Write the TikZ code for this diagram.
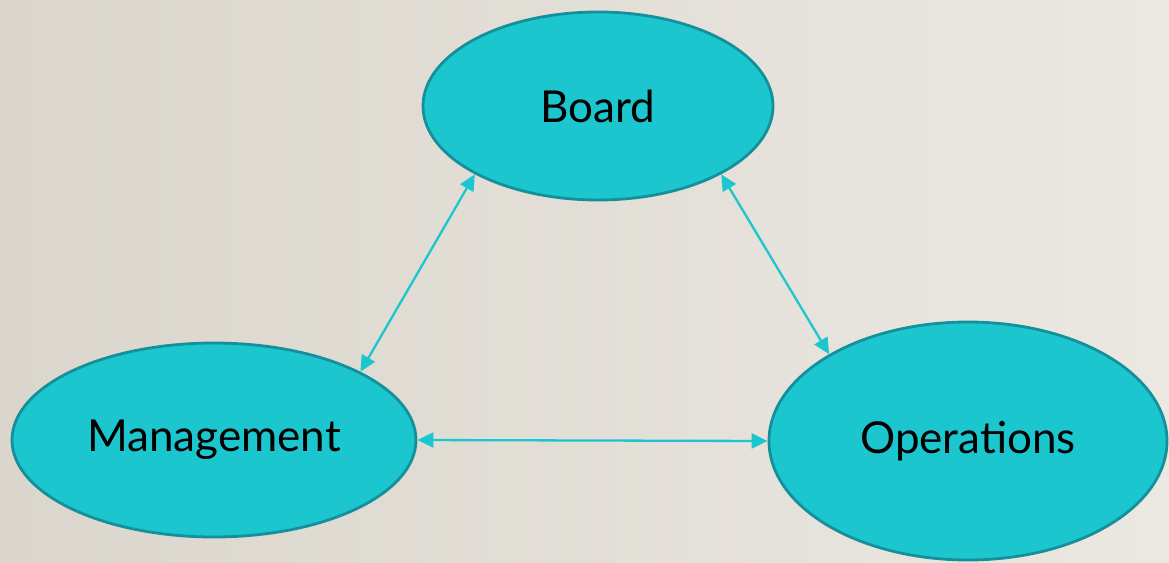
\documentclass[tikz,border=0pt]{standalone}
\usepackage{fontspec}
\setmainfont{Lato}
\usetikzlibrary{shapes.geometric,arrows.meta}
\definecolor{cyanfill}{HTML}{1CC6CF}
\definecolor{tealline}{HTML}{14909A}
\definecolor{bgleft}{HTML}{DAD6CD}
\definecolor{bgright}{HTML}{EBE8E2}
\tikzset{
  oval/.style={ellipse, fill=cyanfill, draw=tealline, line width=2.8pt, inner sep=0pt, font=\fontsize{44}{52}\selectfont},
  link/.style={draw=cyanfill, line width=2.3pt, {Triangle[length=16pt,width=15pt]}-{Triangle[length=16pt,width=15pt]}}
}
\begin{document}
\begin{tikzpicture}[x=1pt,y=-1pt]
\shade[left color=bgleft, right color=bgright] (0,0) rectangle (1169,562);
\useasboundingbox (0,0) rectangle (1169,562);
\node[oval, minimum width=350pt, minimum height=188pt] (b) at (598,106) {Board};
\node[oval, minimum width=404pt, minimum height=194pt] (m) at (214,440) {Management};
\node[oval, minimum width=398pt, minimum height=238pt] (o) at (968,441) {Operations};
\draw[link] (b.209) -- (m.25.6);
\draw[link] (b.331.6) -- (o.148.3);
\draw[link] (m.0.8) -- (o.180);
\end{tikzpicture}
\end{document}
